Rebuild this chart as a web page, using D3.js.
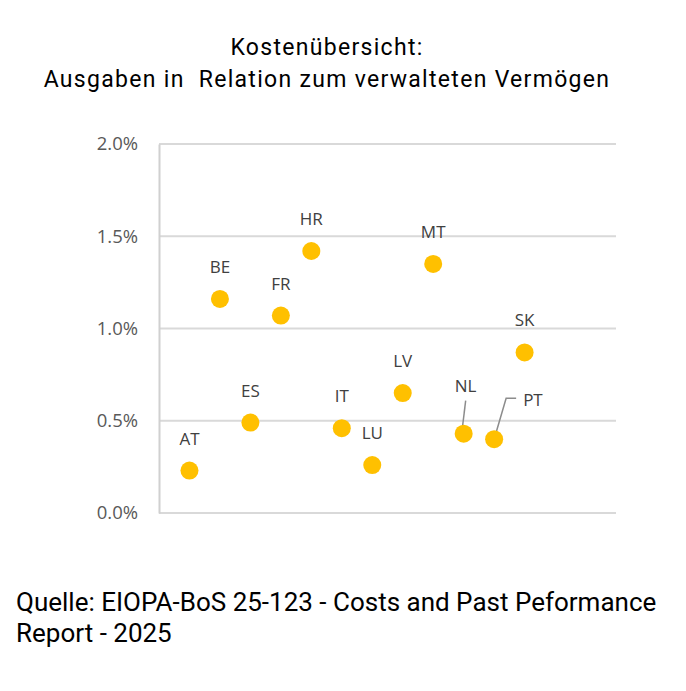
<!DOCTYPE html>
<html>
<head>
<meta charset="utf-8">
<script src="https://cdn.jsdelivr.net/npm/d3@7"></script>
<style>
  body { margin: 0; background: #fff; }
  svg { display: block; }
</style>
</head>
<body>
<div id="chart"></div>
<script>
// data
var countries = ['AT', 'BE', 'ES', 'FR', 'HR', 'IT', 'LU', 'LV', 'MT', 'NL', 'PT', 'SK'];
var costs = [0.23, 1.16, 0.49, 1.07, 1.42, 0.46, 0.26, 0.65, 1.35, 0.43, 0.40, 0.87];
var yTicks = [0, 0.5, 1.0, 1.5, 2.0];
var titleLines = ['Kostenübersicht:', 'Ausgaben in\u00a0 Relation zum verwalteten Vermögen'];
var sourceLines = ['Quelle: EIOPA-BoS 25-123 - Costs and Past Peformance', 'Report - 2025'];

var W = 686, H = 691;
var plot = {left: 159, right: 616, top: 144, bottom: 513};

var svg = d3.select('#chart').append('svg')
    .attr('width', W)
    .attr('height', H);

var x = d3.scaleLinear().domain([0, 15]).range([plot.left, plot.right]);
var y = d3.scaleLinear().domain([0, 2]).range([plot.bottom, plot.top]);

// title
svg.append('g').selectAll('text')
    .data(titleLines).enter().append('text')
    .attr('x', 327)
    .attr('y', function(d, i){ return 55 + i * 32; })
    .attr('text-anchor', 'middle')
    .attr('font-family', 'Roboto, sans-serif')
    .attr('font-size', 23)
    .attr('letter-spacing', 1.3)
    .attr('fill', '#000')
    .text(function(d){ return d; });

// gridlines
svg.append('g').selectAll('line')
    .data(yTicks).enter().append('line')
    .attr('x1', plot.left)
    .attr('x2', plot.right)
    .attr('y1', function(d){ return y(d); })
    .attr('y2', function(d){ return y(d); })
    .attr('stroke', '#d9d9d9')
    .attr('stroke-width', 2);

// y axis
var yAxis = d3.axisLeft(y)
    .tickValues(yTicks)
    .tickSize(0)
    .tickPadding(21)
    .tickFormat(function(d){ return d.toFixed(1) + '%'; });

var gy = svg.append('g')
    .attr('transform', 'translate(' + plot.left + ',0)')
    .call(yAxis);
gy.select('.domain').attr('stroke', '#d0d0d0').attr('stroke-width', 2);
gy.selectAll('text')
    .attr('font-family', '"Open Sans", sans-serif')
    .attr('font-size', 18.5)
    .attr('fill', '#595959');

// leader lines for the two labels that sit apart
var leaders = {
    NL: function(px, py){ return [[px + 2, py - 33], [px - 2, py]]; },
    PT: function(px, py){ return [[px + 22, py - 41], [px + 12, py - 41], [px, py]]; }
};
var labelPos = {
    NL: {dx: 2, dy: -42, anchor: 'middle'},
    PT: {dx: 29, dy: -33, anchor: 'start'}
};

var pts = countries.map(function(c, i){
    return {name: c, px: x(i + 1), py: y(costs[i])};
});

svg.append('g').selectAll('path')
    .data(pts.filter(function(d){ return leaders[d.name]; }))
    .enter().append('path')
    .attr('d', function(d){ return d3.line()(leaders[d.name](d.px, d.py)); })
    .attr('fill', 'none')
    .attr('stroke', '#8c8c8c')
    .attr('stroke-width', 1.5);

// dots
svg.append('g').selectAll('circle')
    .data(pts).enter().append('circle')
    .attr('cx', function(d){ return d.px; })
    .attr('cy', function(d){ return d.py; })
    .attr('r', 9)
    .attr('fill', '#ffc000');

// labels
svg.append('g').selectAll('text')
    .data(pts).enter().append('text')
    .attr('x', function(d){ return d.px + (labelPos[d.name] ? labelPos[d.name].dx : 0); })
    .attr('y', function(d){ return d.py + (labelPos[d.name] ? labelPos[d.name].dy : -26); })
    .attr('text-anchor', function(d){ return labelPos[d.name] ? labelPos[d.name].anchor : 'middle'; })
    .attr('font-family', '"Open Sans", sans-serif')
    .attr('font-size', 17)
    .attr('fill', '#404040')
    .text(function(d){ return d.name; });

// source note
svg.append('g').selectAll('text')
    .data(sourceLines).enter().append('text')
    .attr('x', 16)
    .attr('y', function(d, i){ return 611 + i * 31; })
    .attr('font-family', 'Roboto, sans-serif')
    .attr('font-size', 26)
    .attr('fill', '#000')
    .text(function(d){ return d; });
</script>
</body>
</html>
